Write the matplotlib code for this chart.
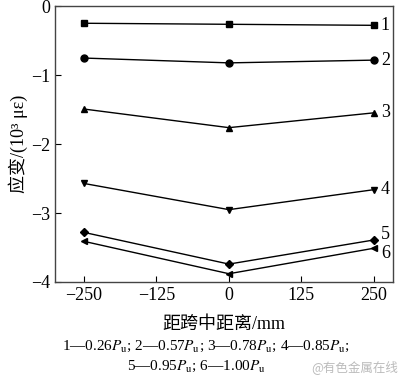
import matplotlib
matplotlib.use('Agg')
import matplotlib.pyplot as plt

plt.rcParams['font.family'] = ['Liberation Serif', 'Noto Sans CJK SC']
plt.rcParams['mathtext.fontset'] = 'stix'

x = [-250, 0, 250]
s1 = [-0.245, -0.26, -0.275]
s2 = [-0.75, -0.82, -0.78]
s3 = [-1.49, -1.76, -1.545]
s4 = [-2.57, -2.95, -2.66]
s5 = [-3.28, -3.74, -3.39]
s6 = [-3.41, -3.88, -3.51]
series = [s1, s2, s3, s4, s5, s6]
markers = ['s', 'o', '^', 'v', 'D', '<']
msizes = [5, 5, 5, 5, 4, 5]
labels = ['1', '2', '3', '4', '5', '6']
label_offsets = [0, 0, 0, 0, 0.08, -0.08]

fig = plt.figure(figsize=(4, 3.75), dpi=100)
ax = fig.add_axes([0.1375, 0.248, 0.845, 0.735])

for s, m, ms, lab, off in zip(series, markers, msizes, labels, label_offsets):
    ax.plot(x, s, '-', color='black', linewidth=1, marker=m, markersize=ms)
    ax.text(262, s[-1] + off, lab, fontsize=13, va='center', ha='left')

ax.set_xlim(-300, 283)
ax.set_ylim(-4, 0)
ax.set_xticks([-250, -125, 0, 125, 250])
ax.set_xticklabels(['\u2212250', '\u2212125', '0', '125', '250'])
ax.set_yticks([0, -1, -2, -3, -4])
ax.set_yticklabels(['0', '\u22121', '\u22122', '\u22123', '\u22124'])
ax.tick_params(direction='in', labelsize=13, length=4, top=False, right=False)
for sp in ax.spines.values():
    sp.set_linewidth(1)
    sp.set_color('#444444')

ax.set_xlabel('距跨中距离/mm', fontsize=13, labelpad=9)
ax.set_ylabel('应变/(10\u00b3 \u03bc\u03b5)', fontsize=13, labelpad=2)

fig.text(0.515, 0.077, '1—0.26$P_\\mathrm{u}$; 2—0.57$P_\\mathrm{u}$; 3—0.78$P_\\mathrm{u}$; 4—0.85$P_\\mathrm{u}$;',
         fontsize=11, ha='center', va='center')
fig.text(0.49, 0.024, '5—0.95$P_\\mathrm{u}$; 6—1.00$P_\\mathrm{u}$',
         fontsize=11, ha='center', va='center')
fig.text(0.995, 0.02, '@有色金属在线', fontsize=9, color='#bbbbbb', ha='right', va='center',
         family=['Noto Sans CJK SC'])

fig.savefig('out.png', dpi=100)
